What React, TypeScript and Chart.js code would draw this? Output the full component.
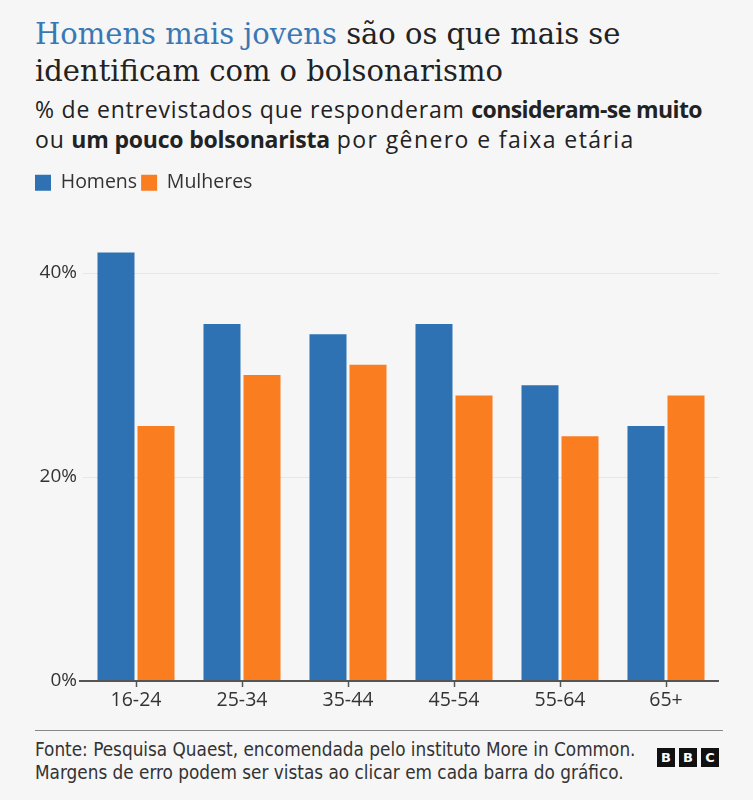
import React, { useEffect, useRef } from "react";
import { Chart, registerables } from "chart.js";

Chart.register(...registerables);

const categories = ["16-24", "25-34", "35-44", "45-54", "55-64", "65+"];
const seriesNames = ["Homens", "Mulheres"];
const homens = [42, 35, 34, 35, 29, 25];
const mulheres = [25, 30, 31, 28, 24, 28];
const yTickValues = [0, 20, 40];
const yMax = 45;

const BLUE = "#2e72b4";
const ORANGE = "#fa7d20";
const TEXT = "#222222";
const SANS = "'Open Sans', 'Noto Sans', sans-serif";
const NARROW = "'Liberation Sans Narrow', 'DejaVu Sans Condensed', 'Noto Sans', sans-serif";

export default function App() {
  const ref = useRef<HTMLCanvasElement>(null);

  useEffect(() => {
    document.body.style.margin = "0";
    const canvas = ref.current;
    if (!canvas) return;
    const legendSpacer = {
      id: "legendSpacer",
      afterInit(chart: any) {
        const legend = chart.legend;
        if (!legend) return;
        const orig = legend.fit;
        legend.fit = function () {
          orig.call(this);
          this.height = 53;
        };
      },
    };
    const chart = new Chart(canvas, {
      type: "bar",
      data: {
        labels: categories,
        datasets: [
          { label: seriesNames[0], data: homens, backgroundColor: BLUE, borderWidth: 0 },
          { label: seriesNames[1], data: mulheres, backgroundColor: ORANGE, borderWidth: 0 },
        ],
      },
      options: {
        animation: false,
        responsive: true,
        maintainAspectRatio: false,
        layout: { padding: 0 },
        datasets: { bar: { categoryPercentage: 0.755, barPercentage: 0.925 } },
        plugins: {
          tooltip: { enabled: false },
          legend: {
            display: true,
            position: "top",
            align: "start",
            labels: {
              boxWidth: 16,
              boxHeight: 16,
              padding: 4,
              color: "#333",
              font: { family: SANS, size: 19.5 },
            },
          },
        },
        scales: {
          x: {
            grid: {
              display: true,
              drawOnChartArea: false,
              drawTicks: true,
              tickLength: 6,
              tickWidth: 1.5,
              tickColor: "#555",
              offset: false,
            },
            border: { display: true, color: "#555", width: 2 },
            ticks: { color: "#333", font: { family: SANS, size: 19.5 }, padding: 2 },
            afterFit(scale: any) {
              scale.height = 40;
            },
          },
          y: {
            min: 0,
            max: yMax,
            border: { display: false },
            grid: {
              color: (ctx: any) => (ctx.tick && ctx.tick.value === 0 ? "#555" : "#e6e6e6"),
              lineWidth: (ctx: any) => (ctx.tick && ctx.tick.value === 0 ? 2 : 1),
              drawTicks: true,
              tickLength: 4,
              tickColor: (ctx: any) => (ctx.tick && ctx.tick.value === 0 ? "#555" : "rgba(0,0,0,0)"),
            },
            afterBuildTicks(scale: any) {
              scale.ticks = yTickValues.map((v) => ({ value: v }));
            },
            ticks: {
              color: "#333",
              font: { family: SANS, size: 19 },
              padding: 2,
              callback: (v: any) => `${v}%`,
            },
            afterFit(scale: any) {
              scale.width = 52;
            },
          },
        },
      },
      plugins: [legendSpacer],
    });
    return () => chart.destroy();
  }, []);

  const boldLine1 = { fontWeight: 700, letterSpacing: "-0.6px" };
  const boldLine2 = { fontWeight: 700, letterSpacing: "-0.2px" };

  return (
    <div
      style={{
        position: "absolute",
        left: 0,
        top: 0,
        width: 753,
        height: 800,
        background: "#f6f6f6",
        color: TEXT,
        overflow: "hidden",
      }}
    >
      <div
        style={{
          position: "absolute",
          left: 35,
          top: 16,
          width: 710,
          fontFamily: "'DejaVu Serif', serif",
          fontSize: 29,
          lineHeight: "37px",
          color: TEXT,
          whiteSpace: "nowrap",
        }}
      >
        <span style={{ color: "#3a78b5" }}>Homens mais jovens</span> são os que mais se
        <br />
        identificam com o bolsonarismo
      </div>
      <div
        style={{
          position: "absolute",
          left: 35,
          top: 94,
          width: 715,
          fontFamily: SANS,
          fontSize: 23,
          lineHeight: "30px",
          letterSpacing: "0.8px",
          color: TEXT,
          whiteSpace: "nowrap",
        }}
      >
        % de entrevistados que responderam <span style={boldLine1}>consideram-se muito</span>
        <br />
        ou <span style={boldLine2}>um pouco bolsonarista</span>{" "}
        <span style={{ letterSpacing: "1.4px" }}>por gênero e faixa etária</span>
      </div>
      <div style={{ position: "absolute", left: 31, top: 169, width: 688, height: 552 }}>
        <canvas ref={ref} />
      </div>
      <div
        style={{
          position: "absolute",
          left: 35,
          top: 730,
          width: 688,
          height: 0,
          borderTop: "1.5px solid #888",
        }}
      />
      <div
        style={{
          position: "absolute",
          left: 35,
          top: 738,
          width: 620,
          fontFamily: NARROW,
          fontSize: 18.8,
          lineHeight: "23px",
          color: "#333",
          whiteSpace: "nowrap",
        }}
      >
        Fonte: Pesquisa Quaest, encomendada pelo instituto More in Common.
        <br />
        Margens de erro podem ser vistas ao clicar em cada barra do gráfico.
      </div>
      <div style={{ position: "absolute", left: 657, top: 748, display: "flex", gap: 4 }}>
        {["B", "B", "C"].map((l, i) => (
          <div
            key={i}
            style={{
              width: 18,
              height: 19,
              background: "#111",
              color: "#fff",
              fontFamily: "'DejaVu Sans', sans-serif",
              fontWeight: "bold",
              fontSize: 13,
              lineHeight: "19px",
              textAlign: "center",
            }}
          >
            {l}
          </div>
        ))}
      </div>
    </div>
  );
}
